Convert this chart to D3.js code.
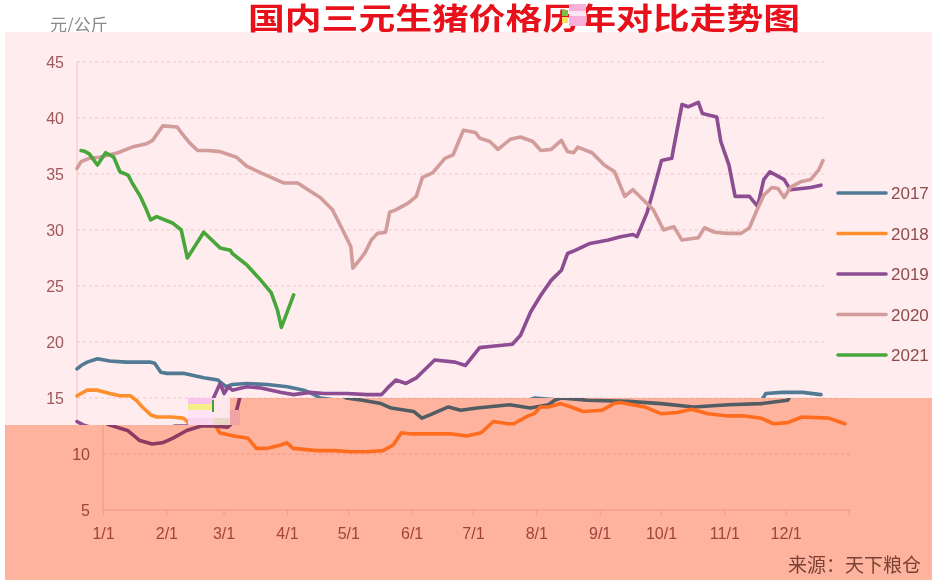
<!DOCTYPE html>
<html>
<head>
<meta charset="utf-8">
<script src="https://cdn.jsdelivr.net/npm/d3@7"></script>
<style>
  body { margin: 0; background: #fff; }
  svg { display: block; }
</style>
</head>
<body>
<svg width="932" height="580"></svg>
<script>
// ---- data (day of year, 元/公斤) ----
const years = ["2017", "2018", "2019", "2020", "2021"];
const monthDays = [0, 31, 59, 90, 120, 151, 181, 212, 243, 273, 304, 334, 365];
const monthLabels = ["1/1", "2/1", "3/1", "4/1", "5/1", "6/1", "7/1", "8/1", "9/1", "10/1", "11/1", "12/1", ""];
const yTicks = [5, 10, 15, 20, 25, 30, 35, 40, 45];

const p2017 = [[0,17.6],[2,17.9],[5,18.2],[10,18.5],[16,18.3],[24,18.2],[36,18.2],[38,18.1],[41,17.3],[44,17.2],[52,17.2],[57,17.0],[62,16.8],[69,16.6],[73,16.0],[76,16.2],[83,16.3],[93,16.2],[103,16.0],[111,15.7],[116,15.3],[119,15.0],[127,14.8],[136,14.5],[141,14.1],[152,13.8],[156,13.2],[160,13.5],[165,13.9],[169,14.2],[175,13.9],[183,14.1],[199,14.4],[209,14.1],[218,14.4],[221,14.8],[224,15.0],[237,14.8],[257,14.7],[273,14.5],[289,14.2],[306,14.4],[322,14.5],[335,14.8],[337,15.4],[345,15.5],[355,15.5],[364,15.3]];
const p2018 = [[0,15.2],[5,15.7],[10,15.7],[16,15.4],[21,15.2],[26,15.2],[29,14.8],[32,14.2],[36,13.5],[39,13.3],[46,13.3],[52,13.2],[54,12.9],[57,11.9],[64,11.6],[71,11.4],[75,10.5],[80,10.5],[87,10.8],[90,11.0],[93,10.5],[105,10.3],[113,10.3],[121,10.2],[129,10.2],[137,10.3],[142,10.8],[146,11.9],[150,11.8],[162,11.8],[170,11.8],[178,11.6],[185,11.9],[191,12.9],[198,12.7],[201,12.7],[208,13.4],[211,13.6],[214,14.2],[218,14.2],[224,14.5],[229,14.2],[235,13.8],[244,13.9],[250,14.5],[253,14.6],[265,14.2],[273,13.6],[281,13.7],[288,14.0],[296,13.6],[306,13.4],[314,13.4],[322,13.2],[328,12.7],[335,12.8],[342,13.3],[355,13.2],[363,12.7]];
const p2019 = [[0,12.9],[3,12.6],[12,12.1],[18,11.2],[24,10.9],[29,11.0],[34,11.4],[41,12.1],[48,12.5],[54,12.5],[61,12.4],[64,12.9],[67,15.1],[70,16.3],[72,15.4],[74,16.0],[76,15.7],[83,16.0],[90,15.9],[100,15.5],[106,15.3],[114,15.5],[121,15.4],[132,15.4],[142,15.3],[149,15.3],[152,15.9],[156,16.6],[161,16.3],[166,16.8],[170,17.5],[175,18.4],[185,18.2],[190,17.9],[197,19.5],[202,19.6],[213,19.8],[217,20.6],[222,22.7],[227,24.2],[232,25.5],[237,26.4],[240,27.9],[244,28.2],[251,28.8],[260,29.1],[266,29.4],[272,29.6],[274,29.4],[279,31.6],[283,34.2],[286,36.2],[291,36.4],[292,37.4],[296,41.2],[299,41.0],[304,41.4],[306,40.4],[313,40.1],[315,37.9],[319,35.8],[322,33.0],[329,33.0],[333,32.1],[336,34.5],[339,35.2],[342,34.9],[346,34.5],[349,33.6],[359,33.8],[364,34.0]];
const p2020 = [[0,35.5],[2,36.1],[6,36.4],[11,36.5],[20,36.9],[27,37.4],[34,37.7],[37,38.0],[42,39.3],[49,39.2],[51,38.7],[55,37.8],[59,37.1],[64,37.1],[70,37.0],[78,36.5],[83,35.7],[90,35.1],[95,34.7],[101,34.2],[108,34.2],[113,33.6],[119,32.9],[125,31.8],[130,30.0],[134,28.5],[135,26.6],[139,27.5],[141,28.0],[144,29.1],[147,29.7],[151,29.8],[153,31.6],[156,31.8],[162,32.4],[166,33.0],[169,34.7],[174,35.1],[180,36.4],[184,36.7],[189,38.9],[195,38.7],[197,38.2],[202,37.9],[206,37.2],[212,38.1],[217,38.3],[223,37.9],[227,37.1],[232,37.2],[237,38.0],[240,37.0],[243,36.9],[245,37.4],[252,36.9],[258,35.8],[263,35.2],[268,33.0],[272,33.6],[277,32.7],[282,31.8],[287,30.0],[292,30.3],[296,29.1],[304,29.3],[307,30.2],[312,29.8],[318,29.7],[325,29.7],[329,30.2],[332,31.5],[336,33.1],[340,33.8],[343,33.7],[346,32.9],[349,33.8],[354,34.3],[359,34.5],[363,35.4],[365,36.2]];
const p2021 = [[2,37.1],[4,37.0],[6,36.8],[10,35.8],[14,36.9],[18,36.5],[21,35.2],[25,34.9],[27,34.2],[31,33.0],[34,31.8],[36,30.9],[39,31.2],[47,30.6],[51,30.0],[54,27.5],[62,29.8],[70,28.4],[75,28.2],[76,27.9],[83,26.9],[90,25.5],[95,24.4],[98,22.9],[100,21.3],[106,24.2]];

const seriesData = [p2017, p2018, p2019, p2020, p2021];
const seriesColors = ["#527a94", "#ff8e2c", "#8c4d93", "#d29c9b", "#48a63a"];

const svg = d3.select("svg");
const pink = "#feecee";
const lowerPath = "M5,425H188V398H932V580H5Z";

const x = d3.scaleLinear().domain([0, 365]).range([77, 823]);
const y = d3.scaleLinear().domain([5, 45]).range([510, 62]);
const line = d3.line().x((d) => x(d[0])).y((d) => y(d[1]));
const font = "'Liberation Sans', Arial, sans-serif";

// background
svg.append("text")
  .attr("x", 50).attr("y", 31)
  .attr("font-family", "'Noto Sans CJK SC', sans-serif")
  .attr("font-size", 17).attr("fill", "#8a8a8a")
  .text("元/公斤");
svg.append("rect").attr("x", 5).attr("y", 32).attr("width", 927).attr("height", 548).attr("fill", pink);

// draws grid, axes and lines; labels only where that part of the picture shows them
const drawPlot = (g, yLabelTicks, withXAxis) => {
  g.selectAll(".grid")
    .data(yTicks.filter((v) => v > 5))
    .join("line")
    .attr("x1", x(0)).attr("x2", x(365) + 4)
    .attr("y1", (d) => y(d)).attr("y2", (d) => y(d))
    .attr("stroke", "#f6c2c4").attr("stroke-width", 1)
    .attr("stroke-dasharray", "3,3");

  g.append("line")
    .attr("x1", x(0)).attr("x2", x(0))
    .attr("y1", y(45)).attr("y2", y(5))
    .attr("stroke", "#f4c4c4");

  g.selectAll(".ylab")
    .data(yLabelTicks)
    .join("text")
    .attr("x", x(0) - 13).attr("y", (d) => y(d))
    .attr("dy", "0.35em").attr("text-anchor", "end")
    .attr("font-family", font).attr("font-size", 16)
    .attr("fill", "#a05858")
    .text((d) => d);

  if (withXAxis) {
    const xAxisG = g.append("g")
      .attr("transform", `translate(0,${y(5)})`)
      .call(d3.axisBottom(x).tickValues(monthDays)
        .tickFormat((d, i) => monthLabels[i]).tickSize(5).tickPadding(13));
    xAxisG.select(".domain").attr("stroke", "#f4c4c4").attr("d", `M${x(0)},0H${x(365) + 2}`);
    xAxisG.selectAll(".tick line").attr("stroke", "#f4c4c4");
    xAxisG.selectAll(".tick text")
      .attr("font-family", font).attr("font-size", 16).attr("fill", "#a05858");
  }

  g.selectAll(".series")
    .data(seriesData)
    .join("path")
    .attr("d", line)
    .attr("fill", "none")
    .attr("stroke", (d, i) => seriesColors[i])
    .attr("stroke-width", 3.6)
    .attr("stroke-linejoin", "round")
    .attr("stroke-linecap", "round");
};

// upper part of the picture
const upper = svg.append("g");
drawPlot(upper, yTicks.filter((v) => v >= 15), false);

const legend = upper.selectAll(".legend")
  .data(years)
  .join("g")
  .attr("transform", (d, i) => `translate(838,${193 + i * 40.5})`);
legend.append("line")
  .attr("x2", 48)
  .attr("stroke", (d, i) => seriesColors[i])
  .attr("stroke-width", 3.6)
  .attr("stroke-linecap", "round");
legend.append("text")
  .attr("x", 53).attr("dy", "0.36em")
  .attr("font-family", font).attr("font-size", 17)
  .attr("fill", "#8f4a4a")
  .text((d) => d);

// lower part: same chart, shifted right, under a salmon multiply tint
svg.append("clipPath").attr("id", "lowerClip")
  .append("path").attr("d", lowerPath);
svg.append("path").attr("d", lowerPath).attr("fill", pink);
const lower = svg.append("g").attr("clip-path", "url(#lowerClip)")
  .append("g").attr("transform", "translate(26,0)");
drawPlot(lower, yTicks.filter((v) => v < 15), true);
svg.append("path").attr("d", lowerPath)
  .attr("fill", "rgb(255,194,170)")
  .style("mix-blend-mode", "multiply");

svg.append("text")
  .attr("x", 788).attr("y", 572)
  .attr("font-family", "'Noto Sans CJK SC', sans-serif")
  .attr("font-size", 19).attr("fill", "#7a4034")
  .text("来源：天下粮仓");

// glitch block
const glitch = svg.append("g");
[["#f8c4ee", 398, 6], ["#f6ee86", 404, 6], ["#fde2f8", 410, 8], ["#fbd4ef", 418, 7]].forEach((s) => {
  glitch.append("rect").attr("x", 188).attr("y", s[1]).attr("width", 26).attr("height", s[2]).attr("fill", s[0]);
});
glitch.append("rect").attr("x", 212).attr("y", 400).attr("width", 2).attr("height", 12).attr("fill", "#4a9a3a");
glitch.append("rect").attr("x", 214).attr("y", 398).attr("width", 16).attr("height", 27).attr("fill", "#fde7ec");
glitch.append("rect").attr("x", 214).attr("y", 418).attr("width", 16).attr("height", 7).attr("fill", "#e9d7c8");
glitch.append("rect").attr("x", 230).attr("y", 410).attr("width", 10).attr("height", 15).attr("fill", "#f2a3a6");

// title
svg.append("text")
  .attr("x", 248).attr("y", 29)
  .attr("font-family", "'Liberation Sans', 'Noto Sans CJK SC', sans-serif")
  .attr("font-weight", "bold")
  .attr("font-size", 30)
  .attr("fill", "#e8111b")
  .attr("textLength", 552)
  .attr("lengthAdjust", "spacingAndGlyphs")
  .text("国内三元生猪价格历年对比走势图");
svg.append("rect").attr("x", 569).attr("y", 4).attr("width", 17).attr("height", 22).attr("fill", "#f7b0da");
svg.append("rect").attr("x", 569).attr("y", 11).attr("width", 17).attr("height", 5).attr("fill", "#fde6f4");
svg.append("rect").attr("x", 562).attr("y", 10).attr("width", 6).attr("height", 6).attr("fill", "#7cc04a");
svg.append("rect").attr("x", 562).attr("y", 17).attr("width", 6).attr("height", 6).attr("fill", "#f5e35a");
</script>
</body>
</html>
